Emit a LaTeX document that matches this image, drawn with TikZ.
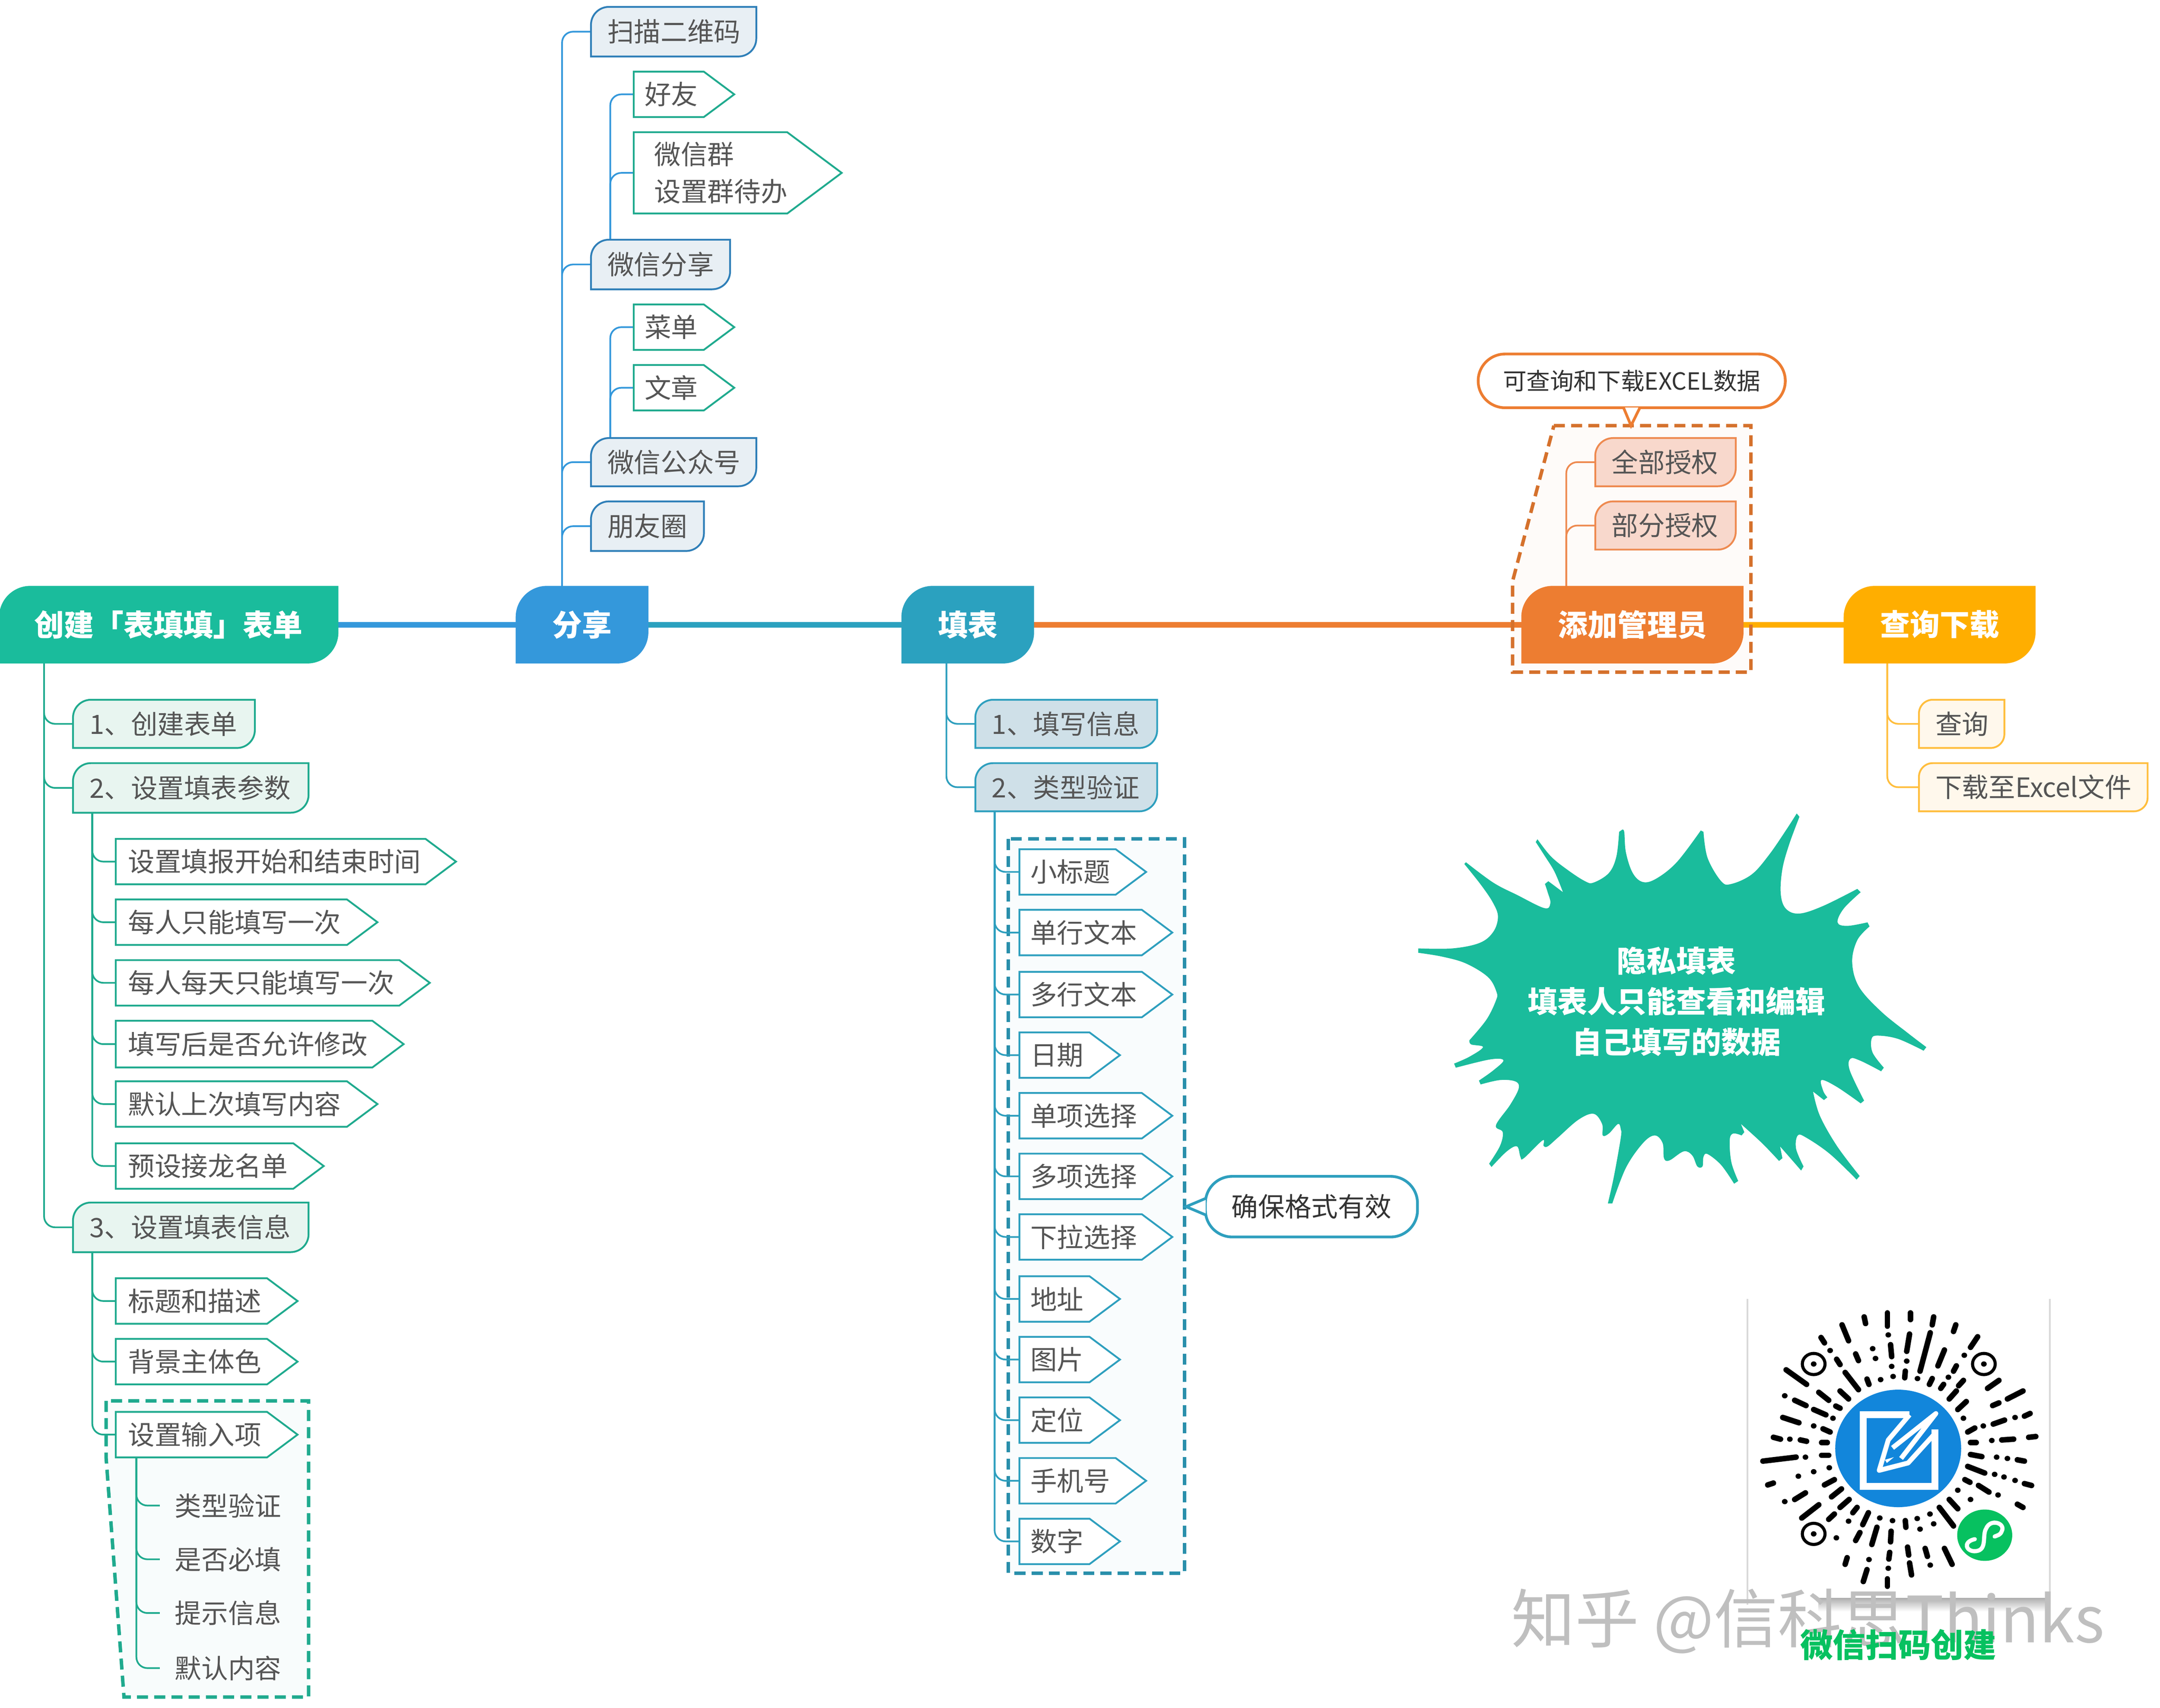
\documentclass[tikz,border=0pt]{standalone}
\usepackage{fontspec}
\setmainfont{Noto Sans CJK SC}
\pgfdeclarelayer{zones}\pgfdeclarelayer{edges}\pgfdeclarelayer{shapes}
\pgfsetlayers{zones,edges,shapes,main}
\definecolor{mgreen}{HTML}{1ABC9C}\definecolor{mblue}{HTML}{3498DB}
\definecolor{mteal}{HTML}{2BA1BF}\definecolor{morange}{HTML}{ED7D31}
\definecolor{myellow}{HTML}{FFAE00}\definecolor{txt}{HTML}{555555}
\definecolor{lgreen}{HTML}{E8F5F0}\definecolor{lblue}{HTML}{E8EFF4}
\definecolor{lteal}{HTML}{CFE0E8}\definecolor{lorange}{HTML}{F8D8CC}
\definecolor{lyellow}{HTML}{FFF8EC}\definecolor{bgreen}{HTML}{1FAA8E}
\definecolor{bblue}{HTML}{2F7FB8}\definecolor{bteal}{HTML}{2E9FBE}
\definecolor{borange}{HTML}{EE8A50}\definecolor{byellow}{HTML}{FFBE3D}
\definecolor{wx}{HTML}{07C160}\definecolor{qrblue}{HTML}{1286DB}
\tikzset{
  bxn/.style={inner sep=0pt,outer sep=0pt,align=left,text=txt,font=\fontsize{11}{15.4}\selectfont},
  mainn/.style={bxn,text=white,font=\fontsize{12.3}{15}\selectfont\bfseries},
  edge/.style={draw=#1,line width=0.7pt,rounded corners=0.16cm},
  trunkline/.style={draw=#1,line width=0.08cm},
  pill/.style={rounded corners=0.39cm,fill=white,draw=#1,line width=0.04cm,inner sep=0pt,text=black!80},
  zone/.style={line width=0.05cm,dash pattern=on 0.16cm off 0.09cm},
  qr/.style={black,line width=0.08cm,line cap=round},
}
\newcommand\nd[8]{%
  \pgfmathsetmacro\nw{(#5-#3)*0.02}\pgfmathsetmacro\nh{(#6-#4)*0.02}\pgfmathsetmacro\npad{#7*0.02}%
  \node[#1,minimum width=\nw cm,minimum height=\nh cm,text width=\nw cm] (#2) at ({(#3+#5)/2},{(#4+#6)/2}) {\hspace*{\npad cm}#8};}
\newcommand\rbox[4]{\begin{pgfonlayer}{shapes}%
  \path[fill=#2,draw=#3,line width=0.75pt] (#1.south west) -- ([yshift=-#4]#1.north west) arc[start angle=180,end angle=90,radius=#4] -- (#1.north east) -- ([yshift=#4]#1.south east) arc[start angle=0,end angle=-90,radius=#4] -- cycle;%
  \end{pgfonlayer}}
% rounded child box, main box, pentagon
\newcommand\cb[9]{\nd{bxn}{#1}{#2}{#3}{#4}{#5}{12}{#6}\rbox{#1}{#7}{#8}{#9}}
\newcommand\mb[6]{\nd{mainn}{#1}{#2}{426}{#3}{481}{#4}{#5}\rbox{#1}{#6}{#6}{0.44cm}}
\newcommand\pent[7]{\nd{bxn}{#1}{#2}{#3}{#4}{#5}{#6}{#7}%
  \pgfmathsetmacro\dep{(#5-#3)*0.02*0.67}%
  \begin{pgfonlayer}{shapes}\path[fill=white,draw=\pencol,line width=0.75pt] (#1.north west) -- ([xshift=-\dep cm]#1.north east) -- (#1.east) -- ([xshift=-\dep cm]#1.south east) -- (#1.south west) -- cycle;\end{pgfonlayer}}
\newcommand\edg[4]{\begin{pgfonlayer}{edges}\draw[edge=#1] ([shift={(#3,0)}]#2) |- (#4.west);\end{pgfonlayer}}
\begin{document}
\begin{tikzpicture}[x=0.02cm,y=-0.02cm]
\useasboundingbox (0,0) rectangle (1568,1239.8);
\begin{pgfonlayer}{zones}\fill[white] (0,0) rectangle (1568,1239.8);\end{pgfonlayer}
% main nodes
\mb{create}{0}{245}{25}{创建「表填填」表单}{mgreen}
\mb{share}{375}{470}{26}{分享}{mblue}
\mb{fill}{655}{750}{26}{填表}{mteal}
\mb{admin}{1105}{1265}{26}{添加管理员}{morange}
\mb{query}{1339}{1477}{26}{查询下载}{myellow}
\begin{pgfonlayer}{edges}
\draw[trunkline=mblue] (create.east) -- (share.west);
\draw[trunkline=mteal] (share.east) -- (fill.west);
\draw[trunkline=morange] (fill.east) -- (admin.west);
\draw[trunkline=myellow] (admin.east) -- (query.west);
\end{pgfonlayer}
% create branch
\cb{c1}{53}{508}{185}{543}{1、创建表单}{lgreen}{bgreen}{0.26cm}
\cb{c2}{53}{554}{224}{590}{2、设置填表参数}{lgreen}{bgreen}{0.26cm}
\cb{c3}{53}{873}{224}{909}{3、设置填表信息}{lgreen}{bgreen}{0.26cm}
\edg{bgreen}{create.south west}{32}{c1}\edg{bgreen}{create.south west}{32}{c2}\edg{bgreen}{create.south west}{32}{c3}
\def\pencol{bgreen}
\pent{p1}{84}{609}{331}{642}{9}{设置填报开始和结束时间}
\pent{p2}{84}{653}{274}{686}{9}{每人只能填写一次}
\pent{p3}{84}{697}{312}{730}{9}{每人每天只能填写一次}
\pent{p4}{84}{741}{293}{775}{9}{填写后是否允许修改}
\pent{p5}{84}{785}{274}{818}{9}{默认上次填写内容}
\pent{p6}{84}{830}{235}{863}{9}{预设接龙名单}
\foreach \cn in {p1,p2,p3,p4,p5,p6}{\edg{bgreen}{c2.south west}{14}{\cn}}
\pent{q1}{84}{928}{216}{961}{9}{标题和描述}
\pent{q2}{84}{972}{216}{1005}{9}{背景主体色}
\pent{q3}{84}{1025}{216}{1058}{9}{设置输入项}
\foreach \cn in {q1,q2,q3}{\edg{bgreen}{c3.south west}{14}{\cn}}
\begin{pgfonlayer}{zones}
\path[fill=bgreen!3] (77,1017) -- (77,1058) -- (90,1232) -- (224,1232) -- (224,1017) -- cycle;
\end{pgfonlayer}
\begin{pgfonlayer}{edges}
\path[draw=bgreen,zone] (77,1017) -- (77,1058) -- (90,1232) -- (224,1232) -- (224,1017) -- cycle;
\end{pgfonlayer}
\nd{bxn}{r1}{116}{1078}{216}{1108}{11}{类型验证}
\nd{bxn}{r2}{116}{1117}{216}{1147}{11}{是否必填}
\nd{bxn}{r3}{116}{1156}{216}{1186}{11}{提示信息}
\nd{bxn}{r4}{116}{1196}{216}{1226}{11}{默认内容}
\foreach \cn in {r1,r2,r3,r4}{\edg{bgreen}{q3.south west}{15}{\cn}}
% share branch
\cb{s1}{429}{5}{549}{41}{扫描二维码}{lblue}{bblue}{0.26cm}
\cb{s2}{429}{174}{530}{210}{微信分享}{lblue}{bblue}{0.26cm}
\cb{s3}{429}{318}{549}{353}{微信公众号}{lblue}{bblue}{0.26cm}
\cb{s4}{429}{364}{511}{400}{朋友圈}{lblue}{bblue}{0.26cm}
\foreach \cn in {s1,s2,s3,s4}{\edg{mblue}{share.north west}{33}{\cn}}
\pent{w1}{460}{52}{533}{85}{8}{好友}
\pent{w2}{460}{96}{611}{155}{15}{微信群\\\hspace*{0.3cm}设置群待办}
\pent{w3}{460}{221}{533}{254}{8}{菜单}
\pent{w4}{460}{265}{533}{298}{8}{文章}
\edg{mblue}{s2.north west}{14}{w1}\edg{mblue}{s2.north west}{14}{w2}
\edg{mblue}{s3.north west}{14}{w3}\edg{mblue}{s3.north west}{14}{w4}
% fill branch
\cb{f1}{708}{508}{840}{543}{1、填写信息}{lteal}{bteal}{0.26cm}
\cb{f2}{708}{554}{840}{589}{2、类型验证}{lteal}{bteal}{0.26cm}
\edg{bteal}{fill.south west}{32}{f1}\edg{bteal}{fill.south west}{32}{f2}
\begin{pgfonlayer}{zones}
\path[fill=bteal!3] (732,609) rectangle (860,1142);
\end{pgfonlayer}
\begin{pgfonlayer}{edges}
\path[draw=bteal!90!black,zone] (732,609) rectangle (860,1142);
\end{pgfonlayer}
\def\pencol{bteal}
\foreach \cn/\yy/\xr/\ct in {t1/633/832/小标题,t2/677/851/单行文本,t3/722/851/多行文本,t4/766/813/日期,t5/810/851/单项选择,t6/854/851/多项选择,t7/898/851/下拉选择,t8/943/813/地址,t9/987/813/图片,t10/1031/813/定位,t11/1075/832/手机号,t12/1119/813/数字}{%
  \pgfmathsetmacro\yt{\yy-16.5}\pgfmathsetmacro\yb{\yy+16.5}%
  \pent{\cn}{740}{\yt}{\xr}{\yb}{8}{\ct}
  \edg{bteal}{f2.south west}{14}{\cn}
}
\node[pill=bteal,minimum width=3.08cm,minimum height=0.88cm,font=\fontsize{11}{14}\selectfont] (note1) at (952,876) {确保格式有效};
\coordinate (note1tip) at (861,876);
\draw[bteal,line width=0.04cm,fill=white] ([shift={(1.2,-6)}]note1.west) -- (note1tip) -- ([shift={(1.2,6)}]note1.west);
% admin branch
\begin{pgfonlayer}{zones}
\path[fill=morange!3] (1128,309) -- (1271,309) -- (1271,488) -- (1098,488) -- (1098,422) -- cycle;
\end{pgfonlayer}
\begin{pgfonlayer}{edges}
\path[draw=morange!90!black,zone] (1128,309) -- (1271,309) -- (1271,488) -- (1098,488) -- (1098,422) -- cycle;
\end{pgfonlayer}
\cb{a1}{1158}{318}{1260}{353}{全部授权}{lorange}{borange}{0.26cm}
\cb{a2}{1158}{364}{1260}{399}{部分授权}{lorange}{borange}{0.26cm}
\edg{borange}{admin.north west}{32}{a1}\edg{borange}{admin.north west}{32}{a2}
\node[pill=morange,minimum width=4.46cm,minimum height=0.78cm,font=\fontsize{9.75}{13}\selectfont] (note2) at (1184.5,276.5) {可查询和下载EXCEL数据};
\coordinate (note2tip) at (1184,309);
\draw[morange,line width=0.04cm,fill=white] ([shift={(-6,-1.2)}]note2.south) -- (note2tip) -- ([shift={(6,-1.2)}]note2.south);
% query branch
\cb{d1}{1393}{508}{1455}{543}{查询}{lyellow}{byellow}{0.2cm}
\cb{d2}{1393}{554}{1559}{589}{下载至Excel文件}{lyellow}{byellow}{0.2cm}
\edg{byellow}{query.south west}{31}{d1}\edg{byellow}{query.south west}{31}{d2}
% starburst
\begin{scope}[shift={(1022.2,581)},xscale=.247,yscale=.1991]
\fill[mgreen]
 plot[smooth,tension=.6] coordinates {(30,540)(130,540)(210,520)(250,480)(264,425)(250,375)(215,310)(165,232)}
 -- plot[smooth,tension=.6] coordinates {(170,226)(250,300)(320,345)(400,393)(418,375)(410,335)(402,305)}
 -- (412,295) -- (455,335)
 -- plot[smooth,tension=.6] coordinates {(455,335)(430,260)(400,200)(375,152)}
 -- plot[smooth,tension=.6] coordinates {(380,142)(420,205)(470,255)(520,295)(545,300)(590,265)(612,205)(620,115)}
 -- plot[smooth,tension=.6] coordinates {(628,108)(635,115)(640,190)(660,265)(690,298)(730,285)(790,225)(860,110)}
 -- plot[smooth,tension=.6] coordinates {(868,115)(880,210)(920,295)(950,305)(1010,270)(1060,200)(1110,110)(1142,48)}
 -- plot[smooth,tension=.6] coordinates {(1150,60)(1120,160)(1100,250)(1095,340)(1110,395)(1150,413)(1220,385)(1320,323)}
 -- plot[smooth,tension=.6] coordinates {(1330,335)(1280,395)(1262,445)(1290,458)(1350,445)}
 -- plot[smooth,tension=.6] coordinates {(1356,460)(1320,510)(1305,590)(1325,680)(1390,770)(1470,850)(1523,900)}
 -- plot[smooth,tension=.6] coordinates {(1515,913)(1440,870)(1380,858)(1362,870)(1365,920)(1398,975)}
 -- plot[smooth,tension=.6] coordinates {(1390,988)(1330,950)(1300,942)(1298,985)(1340,1095)}
 -- plot[smooth,tension=.6] coordinates {(1330,1105)(1260,1045)(1215,1020)(1220,1060)(1232,1083)}
 -- (1222,1093) -- (1190,1062)
 -- plot[smooth,tension=.6] coordinates {(1190,1062)(1210,1150)(1260,1260)(1327,1370)}
 -- plot[smooth,tension=.6] coordinates {(1318,1383)(1240,1290)(1170,1230)(1145,1222)(1140,1270)(1162,1335)}
 -- plot[smooth,tension=.6] coordinates {(1155,1350)(1120,1300)(1093,1262)}
 -- (1100,1305) -- (1090,1315)
 -- plot[smooth,tension=.6] coordinates {(1090,1315)(1040,1250)(978,1180)}
 -- (988,1210) -- (980,1222)
 -- plot[smooth,tension=.6] coordinates {(980,1222)(955,1215)(945,1240)(950,1320)(970,1388)}
 -- plot[smooth,tension=.6] coordinates {(958,1398)(920,1330)(880,1290)(868,1300)(865,1335)(850,1335)(835,1295)(810,1280)(768,1313)(752,1305)(748,1250)(725,1222)(690,1250)(640,1340)(600,1470)}
 -- plot[smooth,tension=.6] coordinates {(587,1470)(605,1370)(625,1230)(625,1200)(617,1180)(590,1215)(572,1222)(570,1180)(545,1143)(500,1165)(440,1230)(410,1262)(398,1260)(395,1240)(340,1305)(330,1300)(320,1262)(290,1280)(245,1337)}
 -- plot[smooth,tension=.6] coordinates {(238,1325)(270,1260)(278,1210)(258,1185)(300,1110)(325,1050)(315,1025)(270,1020)(213,1036)}
 -- plot[smooth,tension=.6] coordinates {(208,1022)(250,985)(280,948)(240,945)(140,975)}
 -- plot[smooth,tension=.6] coordinates {(135,960)(180,935)(220,900)(185,890)(180,875)}
 -- plot[smooth,tension=.6] coordinates {(180,875)(230,800)(258,730)(260,700)(235,645)(170,595)(100,570)(30,556)}
 -- cycle;
\end{scope}
\node[align=center,text=white,inner sep=0pt,font=\fontsize{12.3}{16.8}\selectfont\bfseries] (burst) at (1217,727) {隐私填表\\填表人只能查看和编辑\\自己填写的数据};
% QR panel
\fill[white] (1268,943) rectangle (1488,1205);
\draw[black!15,line width=0.02cm] (1268.5,943) -- (1268.5,1165);
\draw[black!15,line width=0.02cm] (1488,943) -- (1488,1165);
\shade[top color=black!32,bottom color=white] (1320,1160) rectangle (1488,1170);
\begin{scope}[shift={(1226.6,925.3)},xscale=.2059,yscale=.1921]
\fill[qrblue] (735,657) circle [radius=222];
\draw[white,line width=0.1cm] (775,530) -- (612,530) -- (612,800) -- (865,800) -- (865,585);
\draw[white,line width=0.07cm,line join=round] (775,530) -- (700,625) -- (668,740) -- (770,712) -- (865,600);
\draw[white,line width=0.07cm,line join=round] (715,655) -- (868,525) -- (745,695);
\fill[white] (688,700) -- (720,690) -- (695,712) -- cycle;
\fill[wx] (1040,985) circle [radius=97];
\draw[white,line width=0.06cm,line cap=round] (1005,1000) .. controls (960,1010) and (975,1050) .. (1010,1045) .. controls (1050,1040) and (1030,985) .. (1045,960) .. controls (1060,920) and (1115,940) .. (1100,970) .. controls (1095,985) and (1085,985) .. (1075,990);
\foreach \cx/\cy in {437/338,1037/338,437/980}{
  \draw[black,line width=0.045cm] (\cx,\cy) circle [radius=40];
  \fill[black] (\cx,\cy) circle [radius=10];
}
\foreach \a/\b/\c/\d in {697/145/697/195,615/160/620/185,778/145/778/170,860/160/855/190,938/190/930/215,537/190/560/250,775/225/765/290,848/220/812/365,1015/235/990/275,463/238/475/258,708/265/712/310,585/300/595/325,898/285/875/345,518/320/530/340,940/345/930/365,548/370/595/435,760/365/758/390,625/395/632/415,855/393/845/415,965/400/948/420,885/430/895/415,340/360/412/415,1090/400/1050/430,455/445/490/475,530/440/560/470,940/440/915/470,975/480/945/510,1175/440/1120/470,1090/485/1068/495,370/475/410/495,515/497/530/505,437/510/480/530,1200/525/1180/535,1110/550/1070/565,1005/580/980/595,328/540/385/560,470/583/495/595,295/615/320/622,390/625/412/630,465/635/485/635,990/635/1010/635,1100/625/1142/622,1195/615/1220/612,258/705/375/690,465/683/490/683,990/680/1030/688,1155/700/1180/705,980/725/1040/750,1180/790/1205/797,475/795/510/775,970/775/988/785,1018/797/1055/822,275/795/295/788,500/840/535/810,1155/868/1175/880,370/850/408/825,530/880/562/850,915/850/945/885,395/920/455/870,490/925/510/905,880/880/930/950,590/880/575/900,630/900/610/945,760/930/762/955,660/955/642/1020,710/970/708/1010,600/975/585/1005,768/1030/772/1060,830/1035/838/1065,898/1035/925/1095,705/1050/702/1075,775/1090/782/1135,555/1070/548/1095,625/1115/612/1160,697/1150/697/1178}{
  \draw[qr] (\a,\b) -- (\c,\d);
}
\foreach \a/\b in {700/228,495/287,645/280,655/317,968/305,765/327,712/347,673/397,717/385,803/393,912/388,335/458,505/543,965/543,1147/540,1035/572,437/572,353/622,1065/627,408/690,1082/690,1120/695,492/730,437/745,1075/755,1108/765,1147/778,383/762,1087/833,945/815,990/850,335/858,670/920,715/930,802/922,847/905,860/942,812/962,560/932,517/995,848/1098,632/1077,700/1110}{
  \fill[black] (\a,\b) circle [radius=10];
}
\end{scope}
\node[text=black!25,inner sep=0pt,font=\fontsize{26.4}{30}\selectfont] (mark) at (1312.5,1177) {知乎 @信科思Thinks};
\node[text=wx,inner sep=0pt,font=\fontsize{13.5}{16}\selectfont\bfseries] (scan) at (1378,1194) {微信扫码创建};
\end{tikzpicture}
\end{document}
